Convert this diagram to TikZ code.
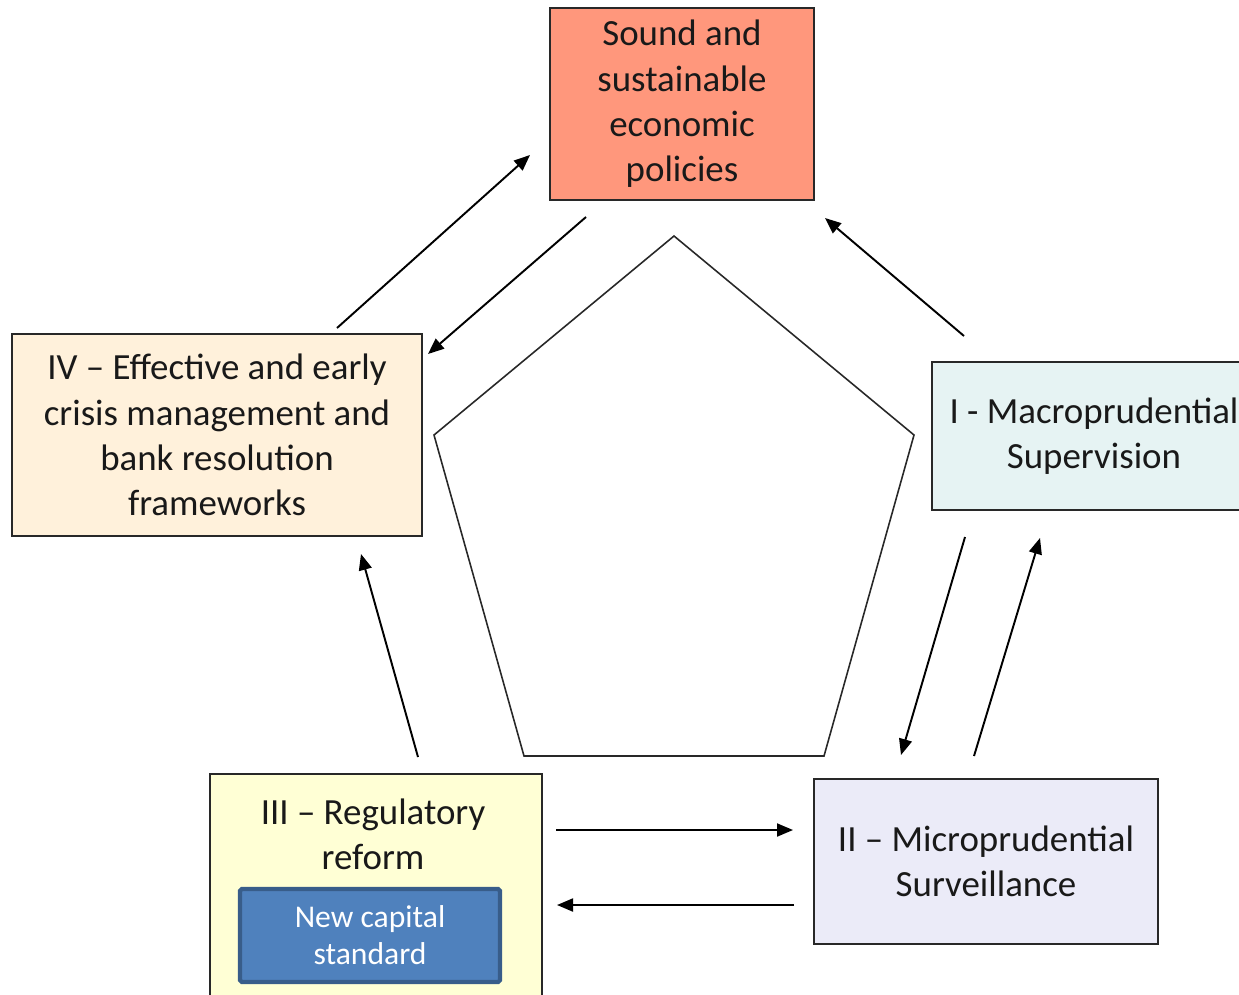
\documentclass[tikz,border=0pt]{standalone}
\usepackage{fontspec}
\setmainfont{Carlito}
\usetikzlibrary{arrows.meta}
\definecolor{salmon}{RGB}{255,151,124}
\definecolor{peach}{RGB}{255,241,219}
\definecolor{mint}{RGB}{230,243,243}
\definecolor{lavender}{RGB}{235,235,248}
\definecolor{cream}{RGB}{255,255,213}
\definecolor{capblue}{RGB}{79,129,189}
\definecolor{capedge}{RGB}{56,93,138}
\definecolor{edge}{RGB}{40,40,40}
\tikzset{
  pillar/.style={draw=edge, line width=1.3pt, rectangle, inner sep=0pt,
    align=center, font=\fontsize{21}{25.8}\selectfont, text=black!90},
  flow/.style={draw=black, line width=1.1pt, -{Triangle[length=0.32cm, width=0.26cm]}},
}
\begin{document}
\begin{tikzpicture}[x=0.02cm, y=-0.02cm]
\useasboundingbox (0,0) rectangle (1239,994);
\clip (0,0) rectangle (1239,994);

% central pentagon
\draw[draw=edge, line width=0.9pt] (674,236) -- (914,435) -- (824,756) -- (524,756) -- (434,435) -- cycle;

% objective and the four pillars
\node[pillar, fill=salmon, minimum width=5.28cm, minimum height=3.84cm] (goal) at (682,104)
  {Sound and\\sustainable\\economic\\policies};
\node[pillar, fill=peach, minimum width=8.2cm, minimum height=4.04cm] (crisis) at (217,435)
  {IV -- Effective and early\\crisis management and\\bank resolution\\frameworks};
\node[pillar, fill=mint, minimum width=6.48cm, minimum height=2.96cm] (macro) at (1094,436)
  {I - Macroprudential\\Supervision};
\node[pillar, fill=lavender, minimum width=6.88cm, minimum height=3.3cm] (micro) at (986,861.5)
  {II -- Microprudential\\Surveillance};
\node[pillar, fill=cream, minimum width=6.64cm, minimum height=4.72cm] (reg) at (376,892) {};
\node[align=center, font=\fontsize{21}{25.8}\selectfont, text=black!90] (regtitle) at (373,834)
  {III -- Regulatory\\reform};
\node[draw=capedge, line width=2.4pt, fill=capblue, rectangle, rounded corners=1pt,
  minimum width=5.2cm, minimum height=1.86cm, inner sep=0pt, align=center,
  font=\fontsize{18}{21}\selectfont, text=white] (capital) at (370,935.5)
  {New capital\\standard};

% arrow end points
\coordinate (c1s) at (337,328);  \coordinate (c1e) at (530,155);
\coordinate (c2s) at (586,217);  \coordinate (c2e) at (428,354);
\coordinate (c3s) at (964,336);  \coordinate (c3e) at (825,218);
\coordinate (c4s) at (965,537);  \coordinate (c4e) at (901,755);
\coordinate (c5s) at (974,756);  \coordinate (c5e) at (1040,538);
\coordinate (c6s) at (556,830);  \coordinate (c6e) at (793,830);
\coordinate (c7s) at (794,905);  \coordinate (c7e) at (557,905);
\coordinate (c8s) at (418,757);  \coordinate (c8e) at (361,554);

% interactions
\draw[flow] (c1s) -- (c1e);
\draw[flow] (c2s) -- (c2e);
\draw[flow] (c3s) -- (c3e);
\draw[flow] (c4s) -- (c4e);
\draw[flow] (c5s) -- (c5e);
\draw[flow] (c6s) -- (c6e);
\draw[flow] (c7s) -- (c7e);
\draw[flow] (c8s) -- (c8e);
\end{tikzpicture}
\end{document}
